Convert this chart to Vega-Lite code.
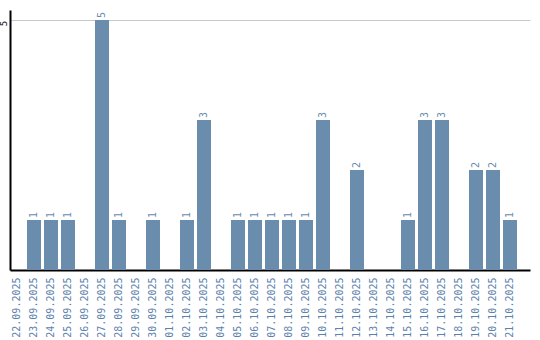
{
  "$schema": "https://vega.github.io/schema/vega-lite/v6.json",
  "width": 520,
  "height": 260,
  "padding": {"left": 10, "top": 10, "right": 10, "bottom": 70},
  "autosize": {"type": "none"},
  "background": "white",
  "config": {"view": {"stroke": null}},
  "data": {"values": [
    {"date": "22.09.2025", "count": 0},
    {"date": "23.09.2025", "count": 1},
    {"date": "24.09.2025", "count": 1},
    {"date": "25.09.2025", "count": 1},
    {"date": "26.09.2025", "count": 0},
    {"date": "27.09.2025", "count": 5},
    {"date": "28.09.2025", "count": 1},
    {"date": "29.09.2025", "count": 0},
    {"date": "30.09.2025", "count": 1},
    {"date": "01.10.2025", "count": 0},
    {"date": "02.10.2025", "count": 1},
    {"date": "03.10.2025", "count": 3},
    {"date": "04.10.2025", "count": 0},
    {"date": "05.10.2025", "count": 1},
    {"date": "06.10.2025", "count": 1},
    {"date": "07.10.2025", "count": 1},
    {"date": "08.10.2025", "count": 1},
    {"date": "09.10.2025", "count": 1},
    {"date": "10.10.2025", "count": 3},
    {"date": "11.10.2025", "count": 0},
    {"date": "12.10.2025", "count": 2},
    {"date": "13.10.2025", "count": 0},
    {"date": "14.10.2025", "count": 0},
    {"date": "15.10.2025", "count": 1},
    {"date": "16.10.2025", "count": 3},
    {"date": "17.10.2025", "count": 3},
    {"date": "18.10.2025", "count": 0},
    {"date": "19.10.2025", "count": 2},
    {"date": "20.10.2025", "count": 2},
    {"date": "21.10.2025", "count": 1}
  ]},
  "encoding": {
    "x": {
      "field": "date", "type": "nominal", "sort": null,
      "scale": {"paddingInner": 0.1765, "paddingOuter": 0.382, "align": 0},
      "axis": {
        "title": null, "labelAngle": -90, "labelAlign": "right", "labelBaseline": "middle",
        "labelFont": "DejaVu Sans Mono", "labelFontSize": 10, "labelColor": "#5b82ad",
        "ticks": false, "labelPadding": 7, "domainColor": "#000000", "domainWidth": 2,
        "grid": false
      }
    },
    "y": {
      "field": "count", "type": "quantitative",
      "scale": {"domain": [0, 5.2], "nice": false},
      "axis": {
        "title": null, "values": [5], "labelAngle": -90, "labelAlign": "center",
        "labelBaseline": "bottom", "labelFont": "DejaVu Sans Mono", "labelFontSize": 9,
        "labelColor": "#000000", "ticks": false, "labelPadding": 2, "labelOffset": 3,
        "domainColor": "#000000", "domainWidth": 2,
        "grid": true, "gridColor": "#c8c8c8", "gridWidth": 1
      }
    }
  },
  "layer": [
    {"mark": {"type": "bar", "color": "#6a8cad"}},
    {
      "transform": [{"filter": "datum.count > 0"}],
      "mark": {"type": "text", "angle": -90, "align": "left", "baseline": "middle", "dx": 2,
               "font": "DejaVu Sans Mono", "fontSize": 10, "color": "#6a8cad"},
      "encoding": {"text": {"field": "count", "type": "quantitative"}}
    }
  ]
}
